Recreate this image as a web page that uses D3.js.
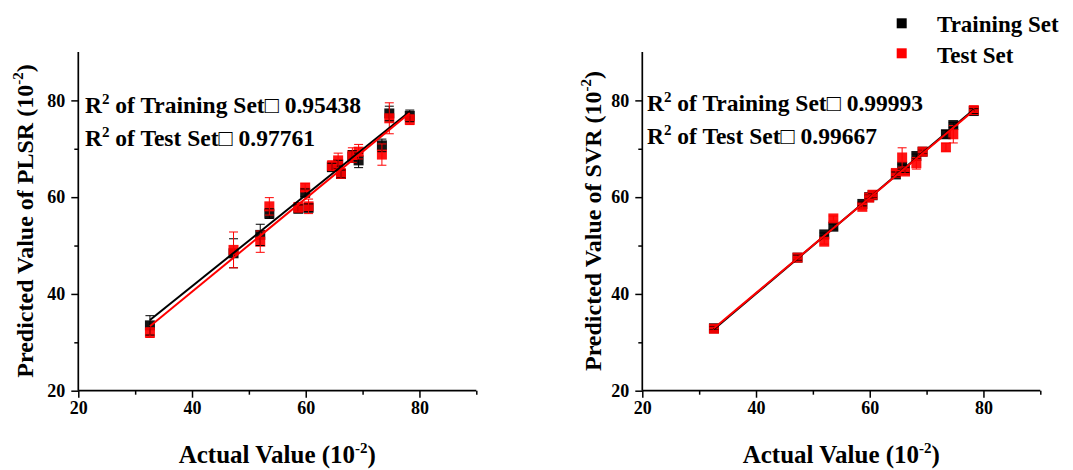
<!DOCTYPE html>
<html><head><meta charset="utf-8">
<script src="https://cdn.jsdelivr.net/npm/d3@7/dist/d3.min.js"></script>
<style>
body{margin:0;background:#fff}
text{font-family:"Liberation Serif","Times New Roman",serif;font-weight:bold;fill:#000}
</style>
</head><body>
<svg id="chart" width="1073" height="470"></svg>
<script>
// ---- data ----
const actualValues = [32.6, 47.3, 52.0, 53.6, 58.7, 59.9, 60.5, 64.6, 65.7, 66.2, 68.2, 69.3, 73.4, 74.7, 78.3];

const plsrTrainPred = [33.5, 48.4, 52.2, 56.6, 57.6, 60.9, 57.8, 66.2, 66.8, 64.8, 68.4, 67.6, 70.7, 77.3, 76.8];
const plsrTrainErr  = [2.0, 3.0, 2.2, 1.0, 0.8, 0.8, 0.8, 0.8, 0.8, 0.8, 1.2, 1.5, 1.3, 1.5, 1.2];
const plsrTestPred  = [32.0, 49.1, 50.8, 58.1, 57.9, 62.0, 58.1, 66.5, 67.6, 64.9, 68.7, 69.4, 68.8, 76.3, 76.0];
const plsrTestErr   = [1.0, 3.7, 2.2, 1.8, 1.0, 0.8, 1.5, 1.0, 1.5, 1.0, 1.5, 1.5, 2.2, 3.2, 1.0];
const plsrTrainFit  = [[32.6, 34.6], [78.3, 77.7]];
const plsrTestFit   = [[32.6, 33.3], [78.3, 77.4]];

const svrTrainPred = [32.9, 47.5, 52.3, 53.9, 58.6, 60.0, 60.4, 64.7, 66.3, 65.6, 68.5, 69.4, 73.0, 74.9, 77.8];
const svrTrainErr  = [0.3, 0.5, 0.3, 0.5, 0.4, 0.4, 0.4, 0.5, 0.5, 0.5, 0.4, 0.4, 0.8, 0.5, 0.5];
const svrTestPred  = [32.8, 47.5, 50.8, 55.6, 58.0, 59.9, 60.5, 65.0, 68.2, 65.3, 67.0, 69.4, 70.3, 73.0, 78.0];
const svrTestErr   = [0.3, 0.3, 0.5, 0.5, 0.5, 0.4, 0.4, 0.5, 2.0, 0.5, 1.2, 0.5, 0.8, 1.8, 0.5];
const svrTrainFit  = [[32.6, 32.7], [78.3, 78.1]];
const svrTestFit   = [[32.6, 32.9], [78.3, 77.9]];

const majorTicks = [20, 40, 60, 80];
const minorTicks = [30, 50, 70, 90];
const seriesNames = ["Training Set", "Test Set"];
const seriesColors = ["#000000", "#ff0000"];
const panelModels = ["PLSR", "SVR"];
const r2Train = ["0.95438", "0.99993"];
const r2Test  = ["0.97761", "0.99667"];

// ---- drawing ----
const svg = d3.select("#chart");
const panels = [
  {x0: 78.3, model: 0, train: plsrTrainPred, trainErr: plsrTrainErr, test: plsrTestPred, testErr: plsrTestErr,
   trainFit: plsrTrainFit, testFit: plsrTestFit, ttlX: 33, txtX: 85, txtY: 113},
  {x0: 642.3, model: 1, train: svrTrainPred, trainErr: svrTrainErr, test: svrTestPred, testErr: svrTestErr,
   trainFit: svrTrainFit, testFit: svrTestFit, ttlX: 601, txtX: 647, txtY: 111}
];
const yTop = 52, yBot = 390.7, W = 398;

panels.forEach(p => {
  const x = d3.scaleLinear().domain([20, 90]).range([p.x0, p.x0 + W]);
  const y = d3.scaleLinear().domain([20, 90]).range([yBot, yTop]);
  const g = svg.append("g");

  // axes
  const xa = g.append("g").attr("transform", `translate(0,${yBot})`)
    .call(d3.axisBottom(x).tickValues(majorTicks).tickSize(7).tickPadding(4).tickFormat(d3.format("d")));
  const xm = g.append("g").attr("transform", `translate(0,${yBot})`)
    .call(d3.axisBottom(x).tickValues(minorTicks).tickSize(4).tickFormat(""));
  const ya = g.append("g").attr("transform", `translate(${p.x0},0)`)
    .call(d3.axisLeft(y).tickValues(majorTicks).tickSize(7).tickPadding(6).tickFormat(d3.format("d")));
  const ym = g.append("g").attr("transform", `translate(${p.x0},0)`)
    .call(d3.axisLeft(y).tickValues(minorTicks.filter(v => v < 90)).tickSize(4).tickFormat(""));
  xm.select(".domain").remove();
  ym.select(".domain").remove();
  xa.select(".domain").attr("d", `M${p.x0},0H${p.x0 + W}`);
  ya.select(".domain").attr("d", `M0,${yBot}V${yTop}`);
  g.selectAll(".domain").attr("stroke", "#000").attr("stroke-width", 1.7);
  g.selectAll(".tick line").attr("stroke", "#000").attr("stroke-width", 1.5);
  g.selectAll(".tick text").style("font-size", "18px").style("font-family", "Liberation Serif").style("font-weight", "bold");

  // markers & error bars
  const sets = [
    {pred: p.train, err: p.trainErr, color: seriesColors[0]},
    {pred: p.test, err: p.testErr, color: seriesColors[1]}
  ];
  const S = 10, cap = 4.5;
  sets.forEach(s => {
    g.append("g").selectAll("rect").data(actualValues).join("rect")
      .attr("x", (d) => x(d) - S / 2)
      .attr("y", (d, i) => y(s.pred[i]) - S / 2)
      .attr("width", S).attr("height", S)
      .attr("fill", s.color).attr("fill-opacity", 0.92);
  });
  sets.forEach(s => {
    const eb = g.append("g").attr("stroke", s.color).attr("stroke-width", 1).attr("fill", "none");
    actualValues.forEach((d, i) => {
      const cx = x(d), y1 = y(s.pred[i] + s.err[i]), y2 = y(s.pred[i] - s.err[i]);
      eb.append("path").attr("d", `M${cx},${y1}V${y2}M${cx - cap},${y1}H${cx + cap}M${cx - cap},${y2}H${cx + cap}`);
    });
  });

  // fitted lines
  const line = d3.line().x(d => x(d[0])).y(d => y(d[1]));
  g.append("path").datum(p.trainFit).attr("d", line).attr("stroke", seriesColors[0]).attr("stroke-width", 2).attr("fill", "none");
  g.append("path").datum(p.testFit).attr("d", line).attr("stroke", seriesColors[1]).attr("stroke-width", 2).attr("fill", "none");

  // R2 text
  const lines = [["Training Set", r2Train[p.model]], ["Test Set", r2Test[p.model]]];
  lines.forEach((l, k) => {
    const t = g.append("text").attr("x", p.txtX).attr("y", p.txtY + k * 33).style("font-size", "23.5px");
    t.append("tspan").text("R");
    t.append("tspan").attr("dy", -9).style("font-size", "15px").text("2");
    t.append("tspan").attr("dy", 9).text(" of " + l[0] + "\u25A1 " + l[1]);
  });

  // axis titles
  const xt = g.append("text").attr("x", p.x0 + W / 2).attr("y", 463).attr("text-anchor", "middle").style("font-size", "25px");
  xt.append("tspan").text("Actual Value (10");
  xt.append("tspan").attr("dy", -10).style("font-size", "15px").text("-2");
  xt.append("tspan").attr("dy", 10).text(")");

  const yt = g.append("text").attr("transform", `translate(${p.ttlX},221) rotate(-90)`).attr("text-anchor", "middle").style("font-size", "24px");
  yt.append("tspan").text("Predicted Value of " + panelModels[p.model] + " (10");
  yt.append("tspan").attr("dy", -10).style("font-size", "15px").text("-2");
  yt.append("tspan").attr("dy", 10).text(")");
});

// legend
const leg = svg.append("g");
seriesNames.forEach((n, i) => {
  leg.append("rect").attr("x", 896.7).attr("y", 18.3 + i * 30).attr("width", 10).attr("height", 10).attr("fill", seriesColors[i]);
  leg.append("text").attr("x", 937).attr("y", 32 + i * 30.5).style("font-size", "23px").text(n);
});
</script>
</body></html>
